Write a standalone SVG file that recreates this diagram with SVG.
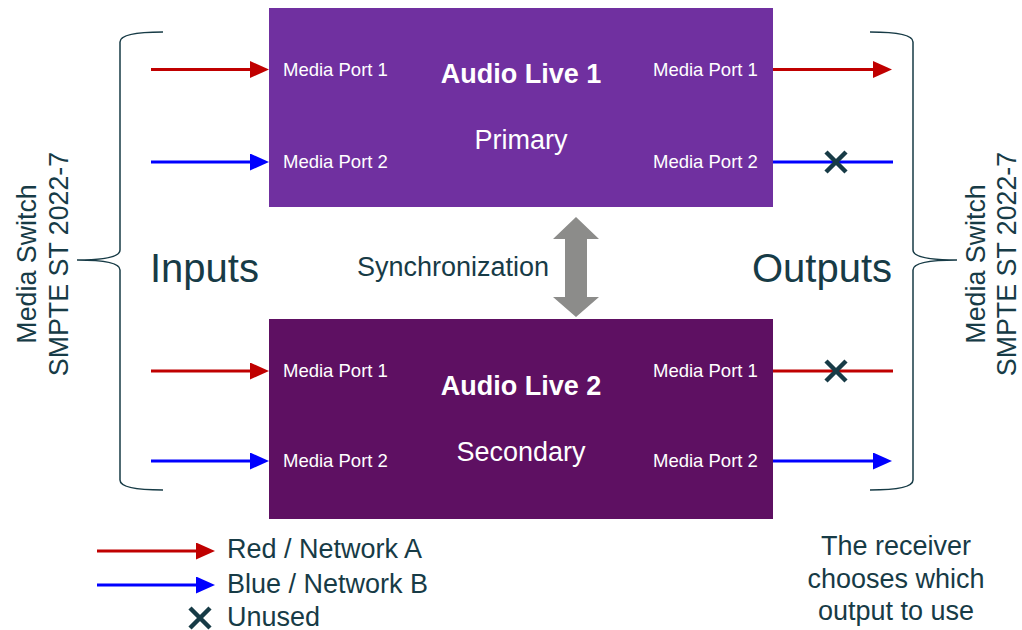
<svg xmlns="http://www.w3.org/2000/svg" width="1022" height="630" viewBox="0 0 1022 630">
<style>
text{font-family:"Liberation Sans",Arial,sans-serif}
.dark{fill:#173B46}
.port{fill:#ffffff;font-size:18.5px}
.title{fill:#ffffff;font-size:27px;font-weight:bold;text-anchor:middle}
.sub{fill:#ffffff;font-size:27px;text-anchor:middle}
.red{stroke:#C00000;stroke-width:3;fill:none}
.blue{stroke:#0000FF;stroke-width:3;fill:none}
.brace{stroke:#173B46;stroke-width:1.5;fill:none}
.x{stroke:#173B46;stroke-width:4.5;fill:none}
.side{font-size:26.8px;text-anchor:middle}
</style>
<defs>
<marker id="ar" markerUnits="userSpaceOnUse" markerWidth="19" markerHeight="17" refX="9" refY="8.5" orient="auto"><path d="M0,0 L19,8.5 L0,17 Z" fill="#C00000"/></marker>
<marker id="ab" markerUnits="userSpaceOnUse" markerWidth="19" markerHeight="17" refX="9" refY="8.5" orient="auto"><path d="M0,0 L19,8.5 L0,17 Z" fill="#0000FF"/></marker>
</defs>
<rect width="1022" height="630" fill="#ffffff"/>

<g id="audio-live-1">
<rect x="269" y="8" width="504" height="199" fill="#7030A0"/>
<text class="title" x="521" y="83">Audio Live 1</text>
<text class="sub" x="521" y="149">Primary</text>
<text class="port" x="283" y="76">Media Port 1</text>
<text class="port" x="283" y="168">Media Port 2</text>
<text class="port" x="653" y="76">Media Port 1</text>
<text class="port" x="653" y="168">Media Port 2</text>
</g>

<g id="audio-live-2">
<rect x="269" y="319" width="504" height="200" fill="#5E1062"/>
<text class="title" x="521" y="395">Audio Live 2</text>
<text class="sub" x="521" y="461">Secondary</text>
<text class="port" x="283" y="377">Media Port 1</text>
<text class="port" x="283" y="467">Media Port 2</text>
<text class="port" x="653" y="377">Media Port 1</text>
<text class="port" x="653" y="467">Media Port 2</text>
</g>

<g id="connectors">
<line class="red" x1="151" y1="69.5" x2="259" y2="69.5" marker-end="url(#ar)"/>
<line class="blue" x1="151" y1="162" x2="259" y2="162" marker-end="url(#ab)"/>
<line class="red" x1="151" y1="371" x2="259" y2="371" marker-end="url(#ar)"/>
<line class="blue" x1="151" y1="461" x2="259" y2="461" marker-end="url(#ab)"/>
<line class="red" x1="773" y1="69.5" x2="882" y2="69.5" marker-end="url(#ar)"/>
<line class="blue" x1="773" y1="162" x2="893" y2="162"/>
<line class="red" x1="773" y1="371" x2="893" y2="371"/>
<line class="blue" x1="773" y1="461" x2="882" y2="461" marker-end="url(#ab)"/>
</g>

<g id="unused-marks">
<path class="x" d="M826,152 L846,172 M846,152 L826,172"/>
<path class="x" d="M826,361 L846,381 M846,361 L826,381"/>
</g>

<g id="sync">
<path d="M576,217 L599,239 L587,239 L587,297 L599,297 L576,317 L553,297 L565,297 L565,239 L553,239 Z" fill="#8C8C8A"/>
<text class="dark" x="357" y="276" font-size="27">Synchronization</text>
</g>

<g id="inputs">
<path class="brace" d="M163,32 C140,32 120,34 120,42 L120,250 C120,258 100,260 77,260 C100,260 120,262 120,270 L120,480 C120,488 140,490 163,490"/>
<text class="dark" x="150" y="282" font-size="40">Inputs</text>
<text class="dark side" transform="translate(36,264) rotate(-90)">Media Switch</text>
<text class="dark side" transform="translate(68,264) rotate(-90)">SMPTE ST 2022-7</text>
</g>

<g id="outputs">
<path class="brace" d="M870,32 C893,32 913,34 913,42 L913,250 C913,258 933,260 957,260 C933,260 913,262 913,270 L913,480 C913,488 893,490 870,490"/>
<text class="dark" x="752" y="282" font-size="40">Outputs</text>
<text class="dark side" transform="translate(985,264) rotate(-90)">Media Switch</text>
<text class="dark side" transform="translate(1016,264) rotate(-90)">SMPTE ST 2022-7</text>
</g>

<g id="legend">
<line class="red" x1="97" y1="551" x2="205" y2="551" marker-end="url(#ar)"/>
<text class="dark" x="227" y="558" font-size="27">Red / Network A</text>
<line class="blue" x1="97" y1="585" x2="205" y2="585" marker-end="url(#ab)"/>
<text class="dark" x="227" y="593" font-size="27">Blue / Network B</text>
<path class="x" d="M190,608 L210,628 M210,608 L190,628"/>
<text class="dark" x="227" y="626" font-size="27">Unused</text>
</g>

<g id="note">
<text class="dark" font-size="27" text-anchor="middle"><tspan x="896" y="555">The receiver</tspan><tspan x="896" y="588">chooses which</tspan><tspan x="896" y="620">output to use</tspan></text>
</g>
</svg>
